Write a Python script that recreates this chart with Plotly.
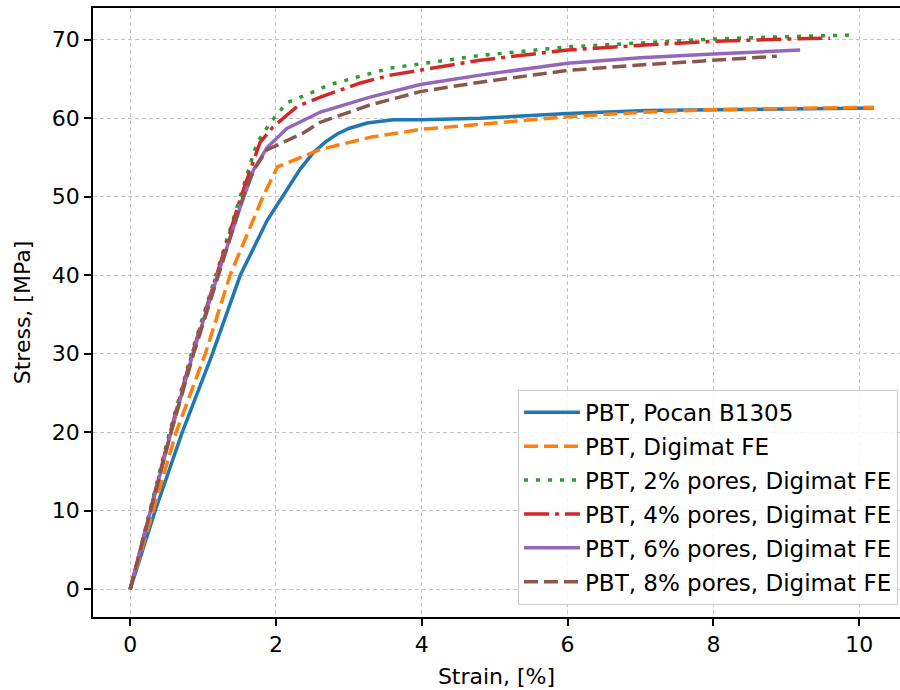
import plotly.graph_objects as go

# Stress-strain curves: strain in %, stress in MPa
pocan_strain = [0, 0.35, 0.71, 1.12, 1.51, 1.69, 1.88, 2.15, 2.33, 2.51, 2.68, 2.84, 3.0, 3.25, 3.61, 4.0, 4.8, 6.0, 7.1, 8.0, 9.0, 10.2]
pocan_stress = [0, 10.2, 19.9, 29.8, 40.0, 43.4, 47.0, 50.9, 53.5, 55.6, 57.0, 58.0, 58.7, 59.4, 59.8, 59.8, 60.0, 60.6, 61.0, 61.1, 61.2, 61.3]

fe_strain = [0, 0.32, 0.63, 1.03, 1.37, 1.82, 2.02, 2.6, 3.3, 4.0, 4.8, 6.0, 7.1, 8.0, 9.0, 10.2]
fe_stress = [0, 10.0, 20.0, 30.0, 40.0, 50.0, 53.8, 56.0, 57.6, 58.6, 59.2, 60.2, 60.8, 61.1, 61.25, 61.4]

p2_strain = [0, 0.27, 0.54, 0.84, 1.17, 1.5, 1.74, 1.92, 2.15, 2.47, 2.74, 3.57, 4.8, 6.0, 7.0, 8.0, 9.0, 9.86]
p2_stress = [0, 10.0, 20.0, 30.0, 40.0, 50.0, 56.9, 59.4, 62.0, 63.2, 64.3, 66.4, 68.0, 69.1, 69.6, 70.1, 70.4, 70.6]

p4_strain = [0, 0.27, 0.55, 0.85, 1.18, 1.52, 1.78, 1.96, 2.29, 2.61, 3.16, 3.57, 4.8, 6.0, 7.0, 8.0, 9.0, 9.6]
p4_stress = [0, 10.0, 20.0, 30.0, 40.0, 50.0, 56.9, 58.9, 61.5, 62.7, 64.5, 65.5, 67.4, 68.7, 69.3, 69.8, 70.1, 70.2]

p6_strain = [0, 0.28, 0.56, 0.86, 1.2, 1.51, 1.69, 1.88, 2.15, 2.61, 3.29, 3.98, 4.8, 6.0, 7.0, 8.0, 9.19]
p6_stress = [0, 10.0, 20.0, 30.0, 40.0, 48.7, 53.4, 56.3, 58.7, 60.8, 62.7, 64.3, 65.5, 67.0, 67.7, 68.2, 68.7]

p8_strain = [0, 0.28, 0.56, 0.87, 1.21, 1.55, 1.7, 1.88, 2.37, 2.61, 3.29, 3.98, 4.8, 6.0, 7.0, 8.0, 8.87]
p8_stress = [0, 10.0, 20.0, 30.0, 40.0, 50.0, 53.5, 56.0, 58.1, 59.5, 61.7, 63.4, 64.6, 66.1, 66.8, 67.4, 67.9]

x_ticks = [0, 2, 4, 6, 8, 10]
y_ticks = [0, 10, 20, 30, 40, 50, 60, 70]

series = [
    ("PBT, Pocan B1305", pocan_strain, pocan_stress, "#1f77b4", "solid"),
    ("PBT, Digimat FE", fe_strain, fe_stress, "#ff7f0e", "14px,6px"),
    ("PBT, 2% pores, Digimat FE", p2_strain, p2_stress, "#2ca02c", "4px,8px"),
    ("PBT, 4% pores, Digimat FE", p4_strain, p4_stress, "#d62728", "25px,6px,4px,6px"),
    ("PBT, 6% pores, Digimat FE", p6_strain, p6_stress, "#9467bd", "solid"),
    ("PBT, 8% pores, Digimat FE", p8_strain, p8_stress, "#8c564b", "14px,6px"),
]

fig = go.Figure()
for i, (name, xs, ys, color, dash) in enumerate(series):
    fig.add_trace(go.Scatter(
        x=xs, y=ys, mode="lines", name=name, legendgroup=f"g{i}",
        line=dict(color=color, width=3.5, dash=dash),
    ))

font = dict(family="DejaVu Sans", size=22, color="#000000")
legend_font = dict(family="DejaVu Sans", size=23, color="#000000")
axis_common = dict(
    showline=True, linecolor="#000000", linewidth=1.6,
    ticks="outside", ticklen=7, tickwidth=1.6, tickcolor="#000000",
    showgrid=True, gridcolor="#c4c4c4", gridwidth=1, griddash="4px,3px",
    zeroline=False, tickfont=font,
)

fig.update_layout(
    width=900, height=690,
    margin=dict(l=93, r=0, t=8, b=73),
    paper_bgcolor="white", plot_bgcolor="white",
    font=font,
    xaxis=dict(
        range=[-0.51, 10.56], tickvals=x_ticks, mirror=True,
        title=dict(text="Strain, [%]", font=font, standoff=12),
        **axis_common,
    ),
    yaxis=dict(
        range=[-3.53, 74.05], tickvals=y_ticks, mirror=False,
        title=dict(text="Stress, [MPa]", font=font, standoff=15),
        **axis_common,
    ),
    legend=dict(
        x=0.9975, xanchor="right", y=0.02, yanchor="bottom",
        bgcolor="rgba(255,255,255,0.85)", bordercolor="#cccccc", borderwidth=1,
        font=legend_font, tracegroupgap=1, itemwidth=56,
    ),
)

fig.write_html("out.html")
